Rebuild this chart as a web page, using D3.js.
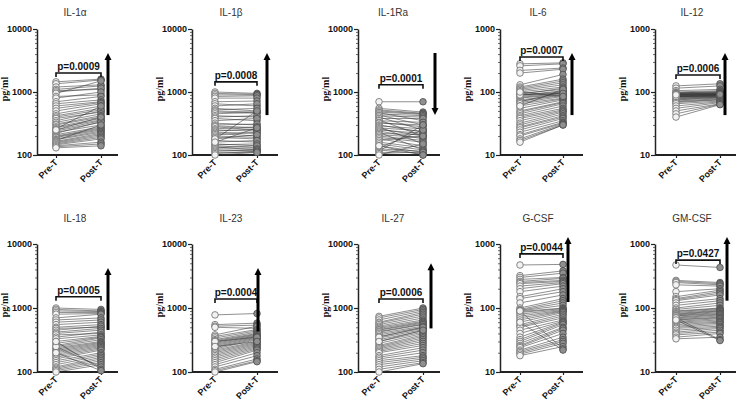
<!DOCTYPE html>
<html><head><meta charset="utf-8">
<script src="https://cdn.jsdelivr.net/npm/d3@7"></script>
<style>body{margin:0;background:#fff}svg{display:block}</style>
</head><body>
<svg id="c" width="740" height="403"></svg>
<script>
// ---------------- DATA ----------------
const categories = ["Pre-T", "Post-T"];
const titles = ["IL-1α","IL-1β","IL-1Ra","IL-6","IL-12","IL-18","IL-23","IL-27","G-CSF","GM-CSF"];
const pLabels = ["p=0.0009","p=0.0008","p=0.0001","p=0.0007","p=0.0006","p=0.0005","p=0.0004","p=0.0006","p=0.0044","p=0.0427"];
const yMin = [100,100,100,10,10,100,100,100,10,10];
const yMax = [10000,10000,10000,1000,1000,10000,10000,10000,1000,1000];
const yTickLabels = [["100","1000","10000"],["100","1000","10000"],["100","1000","10000"],["10","100","1000"],["10","100","1000"],
                     ["100","1000","10000"],["100","1000","10000"],["100","1000","10000"],["10","100","1000"],["10","100","1000"]];
const bracketValue = [2000,1450,1300,360,186,1500,1380,1380,700,560];
const arrowLow  = [430,430,430,43,43,453,430,480,124,130];
const arrowHigh = [4160,4160,4160,416,416,4200,4200,5000,1290,1290];
const arrowDir  = ["up","up","down","up","up","up","up","up","up","up"];

const preIL1a  = [1450,1350,1200,1100,1050,1000,950,850,800,700,650,600,550,500,450,420,400,380,350,330,310,300,280,270,260,250,240,230,220,210,200,195,190,180,175,170,165,160,155,150,145,140,135,130,250];
const postIL1a = [1600,1550,1300,1250,1100,1150,1500,900,1000,850,750,700,680,650,600,550,520,480,500,450,420,400,380,360,600,350,330,300,340,280,270,260,250,240,230,300,220,210,200,190,180,160,150,140,400];
const preIL1b  = [1000,950,900,850,800,700,650,600,550,520,500,480,450,420,400,380,350,320,300,290,280,260,250,240,230,220,210,200,190,180,170,160,150,145,140,135,130,125,120,115,110,105,100,180,160];
const postIL1b = [950,920,900,870,800,720,600,650,500,550,480,460,480,400,420,350,380,300,310,270,250,280,240,260,220,200,230,190,180,210,160,170,140,150,130,120,140,125,115,120,110,115,110,500,270];
const preIL1Ra  = [700,550,520,500,480,470,450,430,420,400,380,360,350,330,320,300,290,280,270,260,250,240,230,220,210,200,190,180,170,160,150,140,130,125,120,115,110,105,100,140];
const postIL1Ra = [700,480,460,450,440,350,420,300,400,250,380,200,330,280,300,230,260,150,240,200,220,180,120,210,190,170,160,140,200,130,120,110,250,115,105,300,110,100,150,100];
const preIL6  = [280,260,220,200,130,120,115,110,105,100,95,92,90,88,85,82,80,75,72,70,68,65,60,55,50,48,45,42,40,38,35,32,30,28,27,25,23,21,20,18,17,16,60,90,100];
const postIL6 = [290,280,240,230,190,160,150,140,130,120,110,115,100,105,98,95,92,90,88,100,85,80,78,75,70,68,65,60,55,52,50,48,45,42,40,38,35,33,32,31,30,30,110,95,85];
const preIL12  = [125,115,105,100,98,96,95,94,93,92,91,90,89,88,87,86,85,84,83,82,80,78,76,75,72,70,68,65,60,55,50,45,40,85,90];
const postIL12 = [135,125,110,105,100,102,98,97,96,95,94,93,92,91,90,89,88,87,86,85,84,83,82,80,78,76,75,72,70,68,65,64,63,88,92];
const preIL18  = [1000,950,900,850,800,700,650,600,550,500,480,450,420,400,380,350,330,300,280,260,250,240,230,220,210,200,190,180,170,160,150,140,130,120,115,110,105,100,250,300,200];
const postIL18 = [950,900,880,850,820,800,700,650,600,550,500,520,480,450,400,420,380,360,350,340,320,300,290,280,270,260,250,240,230,220,200,190,180,170,160,150,140,130,120,110,105];
const preIL23  = [780,550,520,500,380,360,340,320,310,300,290,280,270,260,250,240,230,220,210,200,190,180,170,160,150,140,130,120,110,105,100,300,250];
const postIL23 = [820,580,540,480,520,460,440,420,400,390,380,370,360,350,340,330,320,300,290,280,270,260,250,240,230,220,200,180,160,150,145,350,300];
const preIL27  = [740,700,650,600,580,550,520,500,480,460,450,430,420,400,380,360,340,320,300,280,260,250,240,230,220,210,200,180,170,160,150,140,130,120,110,100,350,300];
const postIL27 = [1000,950,900,850,800,750,700,650,620,600,580,560,550,520,500,480,460,440,420,400,380,360,340,320,300,280,260,240,220,200,180,170,160,150,140,135,500,450];
const preGCSF  = [470,320,300,280,260,250,240,220,200,180,150,140,120,100,95,92,90,88,85,80,75,70,65,60,55,52,50,45,40,35,32,30,28,26,25,24,22,21,20,19,18,90,60];
const postGCSF = [480,380,350,300,290,270,260,250,240,220,200,180,160,140,130,120,110,100,98,95,92,90,88,85,80,75,70,65,62,60,58,55,50,48,45,40,35,32,30,28,25,23,22];
const preGMCSF  = [470,270,260,250,230,180,150,140,135,130,120,110,100,95,90,88,85,82,80,78,76,75,72,70,68,66,65,62,60,58,55,52,50,48,45,42,40,38,35,33,70,65];
const postGMCSF = [430,250,240,230,220,200,190,180,170,160,140,130,120,110,100,98,95,92,90,88,85,82,80,78,75,72,70,68,65,62,60,58,55,52,50,48,45,42,40,35,32,31];

const preSeries  = [preIL1a,preIL1b,preIL1Ra,preIL6,preIL12,preIL18,preIL23,preIL27,preGCSF,preGMCSF];
const postSeries = [postIL1a,postIL1b,postIL1Ra,postIL6,postIL12,postIL18,postIL23,postIL27,postGCSF,postGMCSF];

// ---------------- LAYOUT ----------------
const colAxisX = [37,192,358,500,655];
const colPre   = [56,215,379,520,676];
const colPost  = [101,257,423,563,720];
const colEnd   = [118,278,440,583,736];
const colArrow = [[108,267,435,572,725],[108,258,431,568,727]];
const colTitle = [75,231,393,538,692];
const rowTop = [29,244], rowBottom = [155,372], rowTitle = [16,222];

const svg = d3.select("#c");

for (let i = 0; i < 10; i++) {
  const r = Math.floor(i / 5), c = i % 5;
  const g = svg.append("g");
  const y = d3.scaleLog().domain([yMin[i], yMax[i]]).range([rowBottom[r], rowTop[r]]);
  const x = d3.scalePoint().domain(categories).range([colPre[c], colPost[c]]);
  const ax = colAxisX[c];

  // title
  g.append("text").attr("x", colTitle[c]).attr("y", rowTitle[r])
    .attr("text-anchor","middle").attr("font-family","Liberation Sans, Arial, sans-serif")
    .attr("font-size",10).attr("fill","#333").text(titles[i]);

  // y axis
  const major = [yMin[i], yMin[i]*10, yMax[i]];
  const minor = [];
  for (let d = yMin[i]; d < yMax[i]; d *= 10) for (let k = 2; k <= 9; k++) minor.push(d * k);
  const yAxis = d3.axisLeft(y).tickValues(major).tickFormat((d, j) => yTickLabels[i][j]).tickSize(4).tickSizeOuter(0);
  const ya = g.append("g").attr("transform", `translate(${ax},0)`).call(yAxis);
  ya.select(".domain").attr("stroke","#222").attr("stroke-width",1.5);
  ya.selectAll(".tick line").attr("stroke","#222").attr("stroke-width",1.2);
  ya.selectAll(".tick text").attr("font-family","Liberation Sans, Arial, sans-serif").attr("font-weight","bold")
    .attr("font-size",9).attr("fill","#111").attr("x",-5);
  const yMinor = d3.axisLeft(y).tickValues(minor).tickFormat("").tickSize(2).tickSizeOuter(0);
  const ym = g.append("g").attr("transform", `translate(${ax},0)`).call(yMinor);
  ym.select(".domain").remove();
  ym.selectAll(".tick line").attr("stroke","#444").attr("stroke-width",0.8);

  // x axis
  const xAxis = d3.axisBottom(x).tickSize(3).tickSizeOuter(0);
  const xa = g.append("g").attr("transform", `translate(0,${rowBottom[r]})`).call(xAxis);
  xa.select(".domain").attr("d", `M${ax},0H${colEnd[c]}`).attr("stroke","#222").attr("stroke-width",1.8);
  xa.selectAll(".tick line").attr("stroke","#222").attr("stroke-width",1.2);
  xa.selectAll(".tick text").attr("font-family","Liberation Sans, Arial, sans-serif").attr("font-weight","bold")
    .attr("font-size",9).attr("fill","#111").attr("text-anchor","end")
    .attr("dy",0).attr("y",0).attr("transform","translate(2,8) rotate(-45)");

  // y label
  g.append("text").attr("transform", `translate(${ax-29},${(rowTop[r]+rowBottom[r])/2 - 3}) rotate(-90)`)
    .attr("text-anchor","middle").attr("font-family","Liberation Serif, Times New Roman, serif")
    .attr("font-weight","bold").attr("font-size",10).attr("fill","#111").text("pg/ml");

  // paired lines
  const pairs = preSeries[i].map((v, k) => [v, postSeries[i][k]]);
  g.append("g").selectAll("line").data(pairs).join("line")
    .attr("x1", x("Pre-T")).attr("x2", x("Post-T"))
    .attr("y1", d => y(d[0])).attr("y2", d => y(d[1]))
    .attr("stroke","#333").attr("stroke-width",0.55);
  // points
  g.append("g").selectAll("circle").data(preSeries[i]).join("circle")
    .attr("cx", x("Pre-T")).attr("cy", d => y(d)).attr("r",3.3)
    .attr("fill","#f2f2f2").attr("stroke","#6a6a6a").attr("stroke-width",0.8);
  g.append("g").selectAll("circle").data(postSeries[i]).join("circle")
    .attr("cx", x("Post-T")).attr("cy", d => y(d)).attr("r",3.3)
    .attr("fill","#8f8f8f").attr("stroke","#4a4a4a").attr("stroke-width",0.8);

  // bracket
  const by = y(bracketValue[i]);
  g.append("path").attr("d", `M${x("Pre-T")},${by+4}V${by}H${x("Post-T")}V${by+4}`)
    .attr("fill","none").attr("stroke","#111").attr("stroke-width",1.6);
  g.append("text").attr("x",(x("Pre-T")+x("Post-T"))/2).attr("y",by-3)
    .attr("text-anchor","middle").attr("font-family","Liberation Sans, Arial, sans-serif")
    .attr("font-weight","bold").attr("font-size",10).attr("fill","#111").text(pLabels[i]);

  // arrow
  const axX = colArrow[r][c];
  const yl = y(arrowLow[i]), yh = y(arrowHigh[i]);
  if (arrowDir[i] === "up") {
    g.append("line").attr("x1",axX).attr("x2",axX).attr("y1",yl).attr("y2",yh+6)
      .attr("stroke","#000").attr("stroke-width",3);
    g.append("path").attr("d",`M${axX-3.5},${yh+7}L${axX},${yh}L${axX+3.5},${yh+7}Z`).attr("fill","#000");
  } else {
    g.append("line").attr("x1",axX).attr("x2",axX).attr("y1",yh).attr("y2",yl-6)
      .attr("stroke","#000").attr("stroke-width",3);
    g.append("path").attr("d",`M${axX-3.5},${yl-7}L${axX},${yl}L${axX+3.5},${yl-7}Z`).attr("fill","#000");
  }
}
</script>
</body></html>
